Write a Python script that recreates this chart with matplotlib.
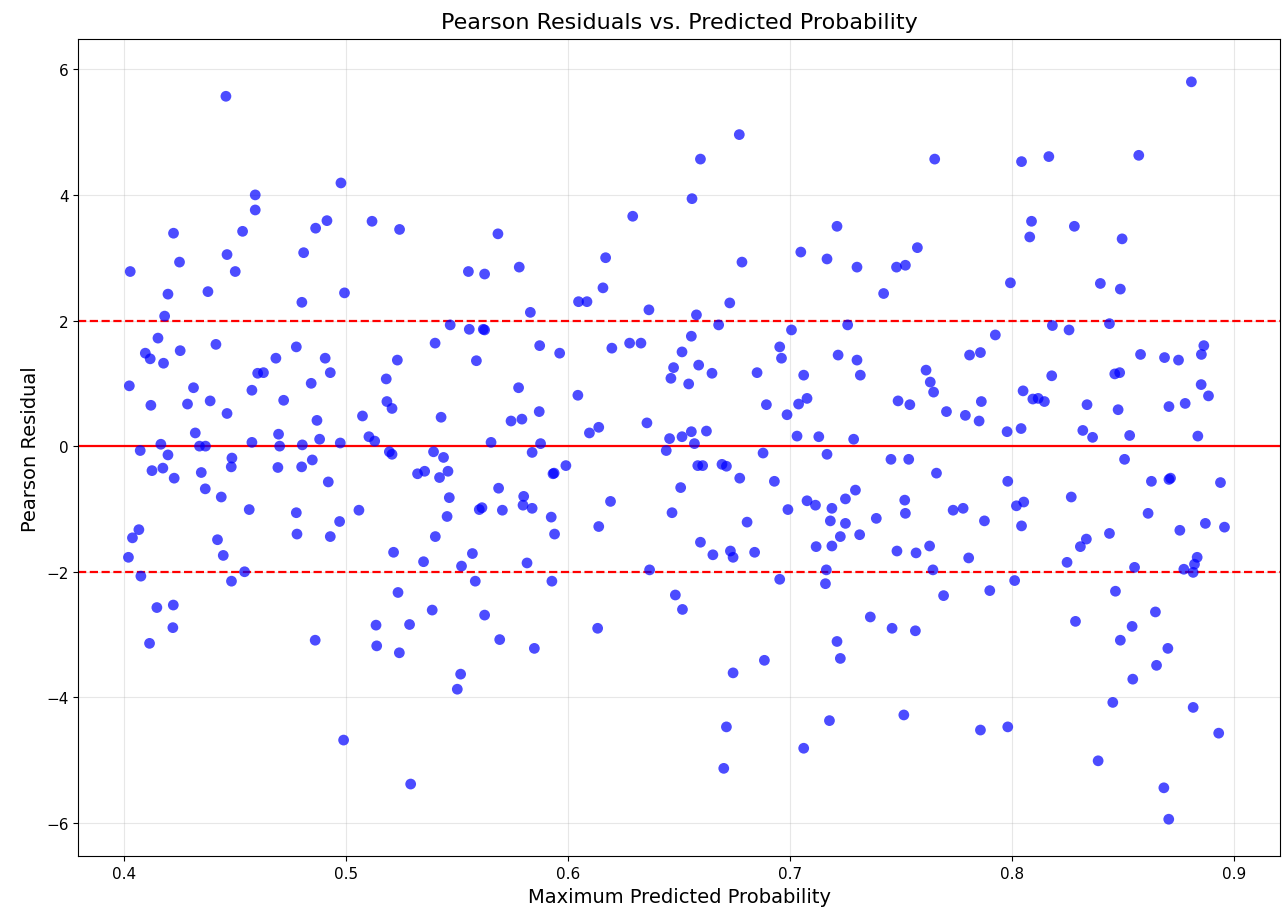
import numpy as np
import matplotlib
matplotlib.use("Agg")
from matplotlib import pyplot as plt

# maximum predicted probability (x) and pearson residual (y)
prob = [
    0.4458, 0.4976, 0.459, 0.459, 0.4913, 0.5116, 0.5240, 0.4222, 0.4533, 0.4862,
    0.4027, 0.4249, 0.4463, 0.450, 0.4808, 0.4197, 0.4377, 0.480, 0.4992, 0.4182,
    0.4152, 0.4095, 0.4117, 0.4177, 0.4252, 0.4413, 0.4683, 0.4775, 0.4905, 0.4928,
    0.4601, 0.4627, 0.523, 0.4023, 0.4312, 0.4575, 0.4842, 0.518, 0.412, 0.4285,
    0.4387, 0.4463, 0.4718, 0.4868, 0.5073, 0.5183, 0.5206, 0.432, 0.4695, 0.488,
    0.5102, 0.5128, 0.4165, 0.4339, 0.4366, 0.4575, 0.470, 0.4802, 0.4973, 0.5194,
    0.5206, 0.4072, 0.4197, 0.4125, 0.4174, 0.4225, 0.4347, 0.4365, 0.4437, 0.4485,
    0.4482, 0.4563, 0.4692, 0.4775, 0.4778, 0.4799, 0.4847, 0.4919, 0.4928, 0.497,
    0.5057, 0.4988, 0.4019, 0.4037, 0.4066, 0.4075, 0.4147, 0.4221, 0.4219, 0.4114,
    0.442, 0.4446, 0.4483, 0.4542, 0.486, 0.5134, 0.5137, 0.5213, 0.5233, 0.5239,
    # 0.52 - 0.66
    0.5683, 0.555, 0.5623, 0.5779, 0.5829, 0.5468, 0.5554, 0.5617, 0.5623, 0.54,
    0.5586, 0.5871, 0.5961, 0.5776, 0.5427, 0.5742, 0.5791, 0.5869, 0.6043, 0.6095,
    0.6137, 0.6354, 0.5652, 0.5875, 0.5393, 0.5438, 0.5837, 0.6046, 0.6084, 0.6156,
    0.6168, 0.629, 0.6363, 0.6196, 0.6276, 0.6327, 0.6557, 0.6595, 0.6577, 0.6554,
    0.6512, 0.6474, 0.6462, 0.6542, 0.6587, 0.6456, 0.6512, 0.6554, 0.6568, 0.6441,
    0.5321, 0.5353, 0.542, 0.5458, 0.5464, 0.5454, 0.5401, 0.5348, 0.5519, 0.5568,
    0.5581, 0.5387, 0.5285, 0.5623, 0.5691, 0.5847, 0.5515, 0.55, 0.529, 0.5686,
    0.5599, 0.5611, 0.5703, 0.5799, 0.5796, 0.5837, 0.5923, 0.5938, 0.5814, 0.5926,
    0.5931, 0.5936, 0.5989, 0.6137, 0.619, 0.6132, 0.6366, 0.6583, 0.6506, 0.6467,
    0.6482, 0.6514, 0.6595,
    # 0.66 - 0.80
    0.677, 0.765, 0.6782, 0.6727, 0.6677, 0.6647, 0.685, 0.6952, 0.696, 0.7005,
    0.6892, 0.6985, 0.706, 0.7037, 0.7075, 0.703, 0.7128, 0.7285, 0.6622, 0.6877,
    0.7165, 0.7047, 0.7165, 0.721, 0.73, 0.7258, 0.7215, 0.73, 0.7315, 0.742,
    0.7478, 0.7518, 0.7572, 0.7611, 0.763, 0.7645, 0.7485, 0.7538, 0.7703, 0.7788,
    0.785, 0.7807, 0.7856, 0.786, 0.7923, 0.7453, 0.7533, 0.6605, 0.6692, 0.6712,
    0.6772, 0.6928, 0.6805, 0.6651, 0.673, 0.6742, 0.6839, 0.6989, 0.6952, 0.6883,
    0.6742, 0.6712, 0.67, 0.706, 0.7176, 0.7075, 0.7113, 0.7187, 0.718, 0.7187,
    0.7248, 0.7248, 0.7293, 0.7225, 0.7116, 0.7312, 0.7162, 0.7158, 0.736, 0.721,
    0.7225, 0.7387, 0.7658, 0.7515, 0.7518, 0.748, 0.7566, 0.7627, 0.7642, 0.769,
    0.7458, 0.7563, 0.7511, 0.7733, 0.7778, 0.7874, 0.7803, 0.7898, 0.7856,
    # 0.80 - 0.90
    0.8806, 0.8041, 0.8164, 0.8569, 0.8086, 0.8078, 0.8279, 0.8494, 0.7991, 0.8396,
    0.8486, 0.818, 0.8255, 0.8437, 0.8577, 0.8685, 0.8748, 0.8862, 0.8851, 0.8177,
    0.8461, 0.8483, 0.8048, 0.8092, 0.8116, 0.8144, 0.8336, 0.8476, 0.885, 0.8883,
    0.8705, 0.8778, 0.7976, 0.8039, 0.8317, 0.8361, 0.8528, 0.8835, 0.8505, 0.7979,
    0.8626, 0.8712, 0.8705, 0.8937, 0.8265, 0.8018, 0.8051, 0.8041, 0.8611, 0.8437,
    0.8306, 0.8333, 0.8246, 0.8754, 0.8869, 0.8955, 0.8832, 0.882, 0.8814, 0.8772,
    0.855, 0.801, 0.8464, 0.8284, 0.8644, 0.8539, 0.8486, 0.87, 0.8649, 0.8542,
    0.8452, 0.8814, 0.8929, 0.7979, 0.8386, 0.8682, 0.8704,
]
resid = [
    5.57, 4.19, 4.00, 3.76, 3.59, 3.58, 3.45, 3.39, 3.42, 3.47,
    2.78, 2.93, 3.05, 2.78, 3.08, 2.42, 2.46, 2.29, 2.44, 2.07,
    1.72, 1.48, 1.39, 1.32, 1.52, 1.62, 1.40, 1.58, 1.40, 1.17,
    1.16, 1.17, 1.37, 0.96, 0.93, 0.89, 1.00, 1.07, 0.65, 0.67,
    0.72, 0.52, 0.73, 0.41, 0.48, 0.71, 0.60, 0.21, 0.19, 0.11,
    0.15, 0.08, 0.03, 0.00, 0.00, 0.06, 0.00, 0.02, 0.05, -0.09,
    -0.13, -0.07, -0.14, -0.39, -0.35, -0.51, -0.42, -0.68, -0.81, -0.19,
    -0.33, -1.01, -0.34, -1.06, -1.40, -0.33, -0.22, -0.57, -1.44, -1.20,
    -1.02, -4.68, -1.77, -1.46, -1.33, -2.07, -2.57, -2.53, -2.89, -3.14,
    -1.49, -1.74, -2.15, -2.00, -3.09, -2.85, -3.18, -1.69, -2.33, -3.29,
    # 0.52 - 0.66
    3.38, 2.78, 2.74, 2.85, 2.13, 1.93, 1.86, 1.86, 1.85, 1.64,
    1.36, 1.60, 1.48, 0.93, 0.46, 0.40, 0.43, 0.55, 0.81, 0.21,
    0.30, 0.37, 0.06, 0.04, -0.09, -0.18, -0.10, 2.30, 2.30, 2.52,
    3.00, 3.66, 2.17, 1.56, 1.64, 1.64, 3.94, 4.57, 2.09, 1.75,
    1.50, 1.25, 1.08, 0.99, 1.29, 0.12, 0.15, 0.23, 0.04, -0.07,
    -0.44, -0.40, -0.50, -0.40, -0.82, -1.12, -1.44, -1.84, -1.91, -1.71,
    -2.15, -2.61, -2.84, -2.69, -3.08, -3.22, -3.63, -3.87, -5.38, -0.67,
    -1.01, -0.98, -1.02, -0.80, -0.94, -0.99, -1.13, -1.40, -1.86, -2.15,
    -0.44, -0.43, -0.31, -1.28, -0.88, -2.90, -1.97, -0.31, -0.66, -1.06,
    -2.37, -2.60, -1.53,
    # 0.66 - 0.80
    4.96, 4.57, 2.93, 2.28, 1.93, 1.16, 1.17, 1.58, 1.40, 1.85,
    0.66, 0.50, 1.13, 0.67, 0.76, 0.16, 0.15, 0.11, 0.24, -0.11,
    -0.13, 3.09, 2.98, 3.50, 2.85, 1.93, 1.45, 1.37, 1.13, 2.43,
    2.85, 2.88, 3.16, 1.21, 1.02, 0.86, 0.72, 0.66, 0.55, 0.49,
    0.40, 1.45, 1.49, 0.71, 1.77, -0.21, -0.21, -0.31, -0.29, -0.32,
    -0.51, -0.56, -1.21, -1.73, -1.67, -1.77, -1.69, -1.01, -2.12, -3.41,
    -3.61, -4.47, -5.13, -4.81, -4.37, -0.87, -0.94, -0.99, -1.19, -1.59,
    -0.84, -1.23, -0.70, -1.44, -1.60, -1.41, -1.97, -2.19, -2.72, -3.11,
    -3.38, -1.15, -0.43, -0.86, -1.07, -1.67, -1.70, -1.59, -1.97, -2.38,
    -2.90, -2.94, -4.28, -1.02, -0.99, -1.19, -1.78, -2.30, -4.52,
    # 0.80 - 0.90
    5.80, 4.53, 4.61, 4.63, 3.58, 3.33, 3.50, 3.30, 2.60, 2.59,
    2.50, 1.92, 1.85, 1.95, 1.46, 1.41, 1.37, 1.60, 1.46, 1.12,
    1.15, 1.17, 0.88, 0.75, 0.76, 0.71, 0.66, 0.58, 0.98, 0.80,
    0.63, 0.68, 0.23, 0.28, 0.25, 0.14, 0.17, 0.16, -0.21, -0.56,
    -0.56, -0.51, -0.53, -0.58, -0.81, -0.95, -0.89, -1.27, -1.07, -1.39,
    -1.60, -1.48, -1.85, -1.34, -1.23, -1.29, -1.77, -1.88, -2.01, -1.96,
    -1.93, -2.14, -2.31, -2.79, -2.64, -2.87, -3.09, -3.22, -3.49, -3.71,
    -4.08, -4.16, -4.57, -4.47, -5.01, -5.44, -5.94,
]

fig = plt.figure(figsize=(12.83, 9.12), dpi=100)
ax = fig.add_axes([0.061, 0.060, 0.937, 0.896])

ax.scatter(prob, resid, s=60, color='blue', alpha=0.7, edgecolors='none', zorder=3)
ax.axhline(0, color='red', linestyle='-', linewidth=1.6, zorder=2)
ax.axhline(2, color='red', linestyle='--', linewidth=1.6, zorder=2)
ax.axhline(-2, color='red', linestyle='--', linewidth=1.6, zorder=2)

ax.set_xlim(0.3793, 0.9207)
ax.set_ylim(-6.53, 6.48)
ax.set_xticks([0.4, 0.5, 0.6, 0.7, 0.8, 0.9])
ax.set_yticks([-6, -4, -2, 0, 2, 4, 6])
ax.grid(True, alpha=0.3)
ax.tick_params(labelsize=11)

ax.set_title('Pearson Residuals vs. Predicted Probability', fontsize=16, pad=8)
ax.set_xlabel('Maximum Predicted Probability', fontsize=14)
ax.set_ylabel('Pearson Residual', fontsize=14)

plt.savefig('out.png', dpi=100)
